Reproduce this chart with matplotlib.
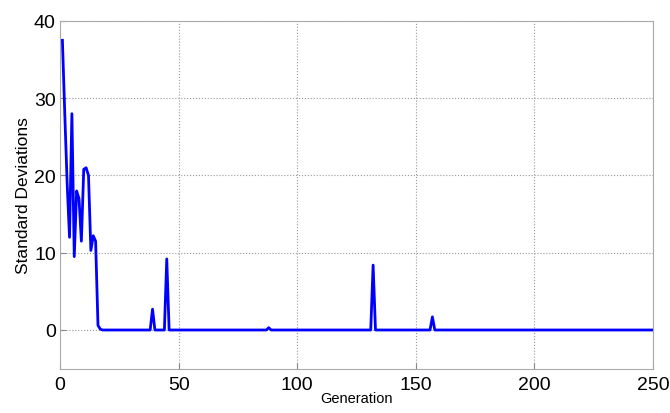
import numpy as np
import matplotlib
matplotlib.use("Agg")
import matplotlib.pyplot as plt

plt.rcParams.update({"font.family": ["Liberation Sans", "DejaVu Sans"]})

# generation-wise standard deviation
early_gen = list(range(1, 19))
early_std = [37.5, 28.0, 19.0, 12.0, 28.0, 9.5, 18.0, 17.0, 11.5,
             20.8, 21.0, 20.0, 10.3, 12.2, 11.5, 0.6, 0.1, 0.0]
spike_gen = [39, 45, 88, 132, 157]
spike_std = [2.7, 9.2, 0.3, 8.4, 1.7]
n_gen = 250

gens = np.arange(1, n_gen + 1)
std = np.zeros(n_gen)
std[np.array(early_gen) - 1] = early_std
std[np.array(spike_gen) - 1] = spike_std

fig = plt.figure(figsize=(6.7, 4.14), dpi=100)
ax = fig.add_axes([0.0896, 0.1072, 0.885, 0.8397])
ax.plot(gens, std, color="#0000ff", lw=2.0)

ax.set_xlim(0, 250)
ax.set_ylim(-5, 40)
ax.set_xticks([0, 50, 100, 150, 200, 250])
ax.set_yticks([0, 10, 20, 30, 40])
ax.grid(True, ls=":", color="#999999", lw=0.8)
for s in ax.spines.values():
    s.set_color("#aaaaaa")
ax.tick_params(direction="in", length=4, color="#888888", labelsize=14)
ax.tick_params(axis="y", pad=3)
ax.tick_params(axis="x", pad=5)
ax.set_xlabel("Generation", fontsize=10.5, labelpad=-1)
ax.set_ylabel("Standard Deviations", fontsize=12.5, labelpad=2)

fig.savefig("out.png")
